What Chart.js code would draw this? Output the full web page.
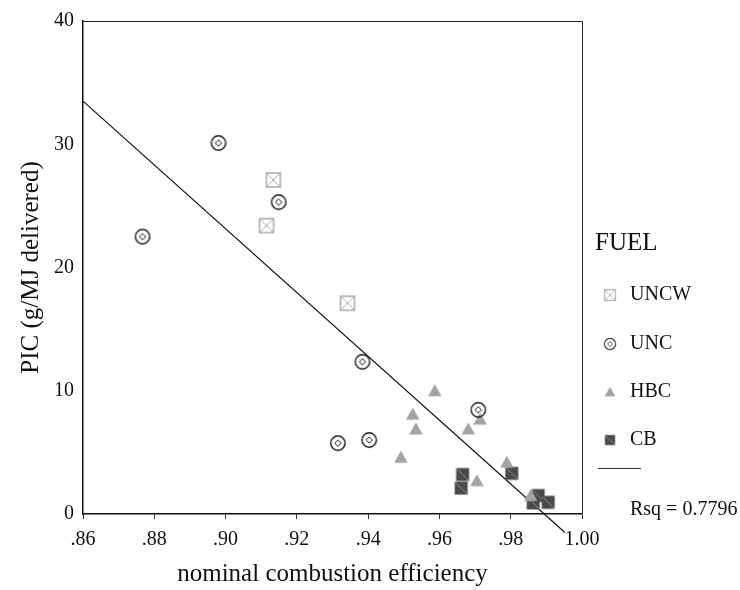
<!DOCTYPE html>
<html lang="en">
<head>
  <meta charset="UTF-8" />
  <title>PIC vs nominal combustion efficiency</title>
  <script src="https://cdn.jsdelivr.net/npm/chart.js"></script>
  <style>
    html, body { margin: 0; padding: 0; background: #fff; }
    canvas { display: block; }
  </style>
</head>
<body>
  <canvas id="fuelChart" width="740" height="590"></canvas>

  <script>
    // values
    const fuelNames = ['UNCW', 'UNC', 'HBC', 'CB'];

    const uncwX = [0.9134, 0.9115, 0.9342];
    const uncwY = [27.1, 23.4, 17.1];

    const uncX = [0.8767, 0.8980, 0.9149, 0.9384, 0.9315, 0.9403, 0.9709];
    const uncY = [22.5, 30.1, 25.3, 12.35, 5.75, 6.0, 8.45];

    const hbcX = [0.9492, 0.9525, 0.9534, 0.9587, 0.9681, 0.9705, 0.9714, 0.9789, 0.9856];
    const hbcY = [4.6, 8.1, 6.9, 10.0, 6.9, 2.7, 7.7, 4.2, 1.5];

    const cbX = [0.9661, 0.9665, 0.9803, 0.9863, 0.9877, 0.9905];
    const cbY = [2.1, 3.2, 3.3, 0.9, 1.5, 0.95];

    // fitted line end points
    const fitX = [0.86, 0.9952];
    const fitY = [33.5, -1.5];
    const rsqText = 'Rsq = 0.7796';

    const xTicks = [0.86, 0.88, 0.90, 0.92, 0.94, 0.96, 0.98, 1.00];
    const yTicks = [0, 10, 20, 30, 40];

    const serif = '"Liberation Serif", "Times New Roman", serif';

    function makeMarker(kind) {
      const c = document.createElement('canvas');
      c.width = 18; c.height = 18;
      const g = c.getContext('2d');
      g.translate(9, 9);
      if (kind === 'UNCW') {
        g.strokeStyle = '#a9a9a9';
        g.lineWidth = 1.5;
        g.strokeRect(-7, -7, 14, 14);
        g.lineWidth = 1;
        g.beginPath();
        g.moveTo(-7, -7); g.lineTo(7, 7);
        g.moveTo(7, -7); g.lineTo(-7, 7);
        g.stroke();
      } else if (kind === 'UNC') {
        g.strokeStyle = '#1a1a1a';
        g.lineWidth = 1.4;
        g.beginPath();
        g.arc(0, 0, 7.2, 0, Math.PI * 2);
        g.stroke();
        g.lineWidth = 1;
        g.beginPath();
        g.moveTo(0, -3.2); g.lineTo(3.2, 0); g.lineTo(0, 3.2); g.lineTo(-3.2, 0);
        g.closePath();
        g.stroke();
      } else if (kind === 'HBC') {
        g.fillStyle = '#a3a3a3';
        g.beginPath();
        g.moveTo(0, -6.5); g.lineTo(6.8, 5.5); g.lineTo(-6.8, 5.5);
        g.closePath();
        g.fill();
      } else {
        g.fillStyle = '#4a4a4a';
        g.fillRect(-6.5, -6.5, 13, 13);
        g.strokeStyle = '#8c8c8c';
        g.lineWidth = 1;
        g.beginPath();
        g.moveTo(-6, -6); g.lineTo(6, 6);
        g.stroke();
      }
      return c;
    }

    const markers = {};
    fuelNames.forEach(n => { markers[n] = makeMarker(n); });

    const pts = (xs, ys) => xs.map((x, i) => ({ x: x, y: ys[i] }));

    function pointSet(name, xs, ys) {
      return {
        label: name,
        data: pts(xs, ys),
        pointStyle: markers[name],
        pointRadius: 8,
        pointHoverRadius: 8,
        showLine: false,
        order: 1
      };
    }

    // box on the top and right, plus the FUEL legend
    const framePlugin = {
      id: 'frameAndLegend',
      afterDraw(chart) {
        const ctx = chart.ctx;
        const a = chart.chartArea;
        ctx.save();
        ctx.strokeStyle = '#222';
        ctx.lineWidth = 1;
        ctx.beginPath();
        ctx.moveTo(a.left, a.top + 0.5);
        ctx.lineTo(a.right + 0.5, a.top + 0.5);
        ctx.lineTo(a.right + 0.5, a.bottom);
        ctx.stroke();

        ctx.fillStyle = '#111';
        ctx.textAlign = 'left';
        ctx.textBaseline = 'middle';
        ctx.font = '25px ' + serif;
        ctx.fillText('FUEL', 595, 243);

        ctx.font = '20px ' + serif;
        const rowY = [295, 344, 392, 440];
        fuelNames.forEach((n, i) => {
          const m = markers[n];
          ctx.drawImage(m, 610 - 7, rowY[i] - 7, 14, 14);
          ctx.fillText(n, 630, rowY[i]);
        });

        ctx.strokeStyle = '#333';
        ctx.beginPath();
        ctx.moveTo(598, 468.5);
        ctx.lineTo(641, 468.5);
        ctx.stroke();
        ctx.fillText(rsqText, 630, 510);
        ctx.restore();
      }
    };

    new Chart(document.getElementById('fuelChart').getContext('2d'), {
      type: 'scatter',
      data: {
        datasets: [
          {
            label: 'fit',
            type: 'line',
            data: pts(fitX, fitY),
            borderColor: '#111',
            borderWidth: 1.2,
            pointRadius: 0,
            fill: false,
            clip: false,
            order: 2
          },
          pointSet('UNCW', uncwX, uncwY),
          pointSet('UNC', uncX, uncY),
          pointSet('HBC', hbcX, hbcY),
          pointSet('CB', cbX, cbY)
        ]
      },
      options: {
        responsive: false,
        animation: false,
        layout: { padding: { top: 13, right: 158, left: 0, bottom: 0 } },
        plugins: { legend: { display: false }, tooltip: { enabled: false } },
        scales: {
          x: {
            type: 'linear',
            min: 0.86,
            max: 1.00,
            afterBuildTicks: s => { s.ticks = xTicks.map(v => ({ value: v })); },
            afterFit: s => { s.height = 76; },
            border: { display: true, color: '#111', width: 1.5 },
            grid: { drawOnChartArea: false, drawTicks: true, tickLength: 5, color: '#333' },
            ticks: {
              color: '#111',
              padding: 9,
              font: { family: serif, size: 20 },
              callback: v => v >= 1 ? v.toFixed(2) : v.toFixed(2).replace(/^0/, '')
            },
            title: {
              display: true,
              text: 'nominal combustion efficiency',
              color: '#111',
              font: { family: serif, size: 25 },
              padding: { top: 0, bottom: 1 }
            }
          },
          y: {
            type: 'linear',
            min: 0,
            max: 40,
            afterBuildTicks: s => { s.ticks = yTicks.map(v => ({ value: v })); },
            afterFit: s => { s.width = 83; },
            border: { display: true, color: '#111', width: 1.5 },
            grid: { drawOnChartArea: false, drawTicks: false },
            ticks: {
              color: '#111',
              padding: 9,
              font: { family: serif, size: 20 }
            },
            title: {
              display: true,
              text: 'PIC (g/MJ delivered)',
              color: '#111',
              font: { family: serif, size: 25 },
              padding: { top: 16, bottom: 0 }
            }
          }
        }
      },
      plugins: [framePlugin]
    });
  </script>
</body>
</html>
